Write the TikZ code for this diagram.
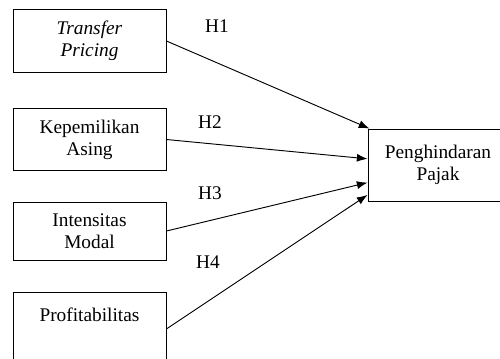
\documentclass[tikz,border=0pt]{standalone}
\usepackage{fontspec}
\setmainfont{Liberation Serif}
\usepackage{tikz}
\usetikzlibrary{arrows.meta,shapes}
\tikzstyle{var}=[draw,rectangle,line width=0.7pt,minimum width=114.75pt,minimum height=47pt,inner sep=0pt,align=center,font=\fontsize{14.5}{16.5}\selectfont]
\tikzstyle{edge} = [draw,line width=0.7pt,-{Latex[length=8pt,width=6pt]}]
\tikzstyle{hyp}=[font=\fontsize{14.5}{16.5}\selectfont]

\begin{document}
\begin{tikzpicture}[x=0.75pt,y=-0.75pt]
      \clip (0,0) rectangle (500,358);
      \node[var] (tp) at (89.5,41) {\textit{Transfer}\\\textit{Pricing}};
      \node[var] (ka) at (89.5,139.5) {Kepemilikan\\Asing};
      \node[var,minimum height=43.5pt] (im) at (89.5,231) {Intensitas\\Modal};
      \node[var,minimum height=67.5pt] (pr) at (89.5,337) {Profitabilitas\\\mbox{}\\\mbox{}};
      \node[var,minimum width=105pt,minimum height=54pt] (pj) at (438,165) {Penghindaran\\Pajak};
      \node[hyp] (h1) at (217,26) {H1};
      \node[hyp] (h2) at (210,122) {H2};
      \node[hyp] (h3) at (210,193) {H3};
      \node[hyp] (h4) at (208,262) {H4};
      \draw[edge] (tp.east) to (pj.152);
      \draw[edge] (ka.east) to (pj.175);
      \draw[edge] (im.east) to (pj.194);
      \draw[edge] (pr.6) to (pj.203);
    \end{tikzpicture}
\end{document}
